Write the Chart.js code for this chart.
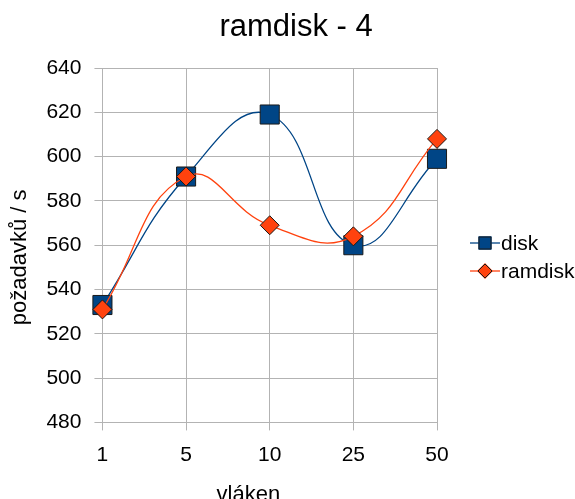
<!DOCTYPE html>
<html>
<head>
<meta charset="utf-8">
<script src="https://cdn.jsdelivr.net/npm/chart.js@4/dist/chart.umd.min.js"></script>
<style>
  html, body { margin: 0; padding: 0; background: #fff; overflow: hidden; }
  #wrap { position: relative; width: 575px; height: 514px; }
</style>
</head>
<body>
<div id="wrap"><canvas id="chart"></canvas></div>
<script>
// Data
var threads = ["1", "5", "10", "25", "50"];
var diskValues = [533, 591, 619, 560, 599];
var ramdiskValues = [531, 591, 569, 564, 608];
var yTicks = [480, 500, 520, 540, 560, 580, 600, 620, 640];

// Texts (the padding spaces nudge the centred text the way LibreOffice placed it)
var chartTitle = "  ramdisk - 4";
var xTitle = "vláken       ";
var yTitle = "požadavků / s    ";

// Colours (LibreOffice defaults)
var diskColor = "#004586";
var ramdiskColor = "#ff420e";
var gridColor = "#b3b3b3";
var fontName = "'Liberation Sans', Arial, sans-serif";

// Keep a strip free on the right for the legend
var legendSpace = {
    id: 'legendSpace',
    beforeInit: function(chart) {
        Chart.layouts.addBox(chart, {
            position: 'right',
            weight: 1000,
            fullSize: false,
            options: {},
            width: 0,
            height: 0,
            isHorizontal: function() { return false; },
            update: function(maxWidth, maxHeight) {
                this.width = 138;
                this.height = maxHeight;
            },
            draw: function() {}
        });
    }
};

// Legend with a line through the marker, drawn after the chart
var lineLegend = {
    id: 'lineLegend',
    afterDraw: function(chart) {
        var ctx = chart.ctx;
        var x0 = 470, y0 = 243, step = 28;
        ctx.save();
        chart.data.datasets.forEach(function(ds, i) {
            var y = y0 + i * step;
            ctx.strokeStyle = ds.borderColor;
            ctx.lineWidth = 1.3;
            ctx.beginPath();
            ctx.moveTo(x0, y);
            ctx.lineTo(x0 + 30, y);
            ctx.stroke();
            Chart.helpers.drawPoint(ctx, {
                pointStyle: ds.pointStyle,
                radius: ds.pointStyle === 'rect' ? 8.5 : 7,
                borderWidth: 1,
                rotation: 0
            }, x0 + 15, y);
            ctx.fillStyle = ds.pointBackgroundColor;
            ctx.strokeStyle = ds.pointBorderColor;
            ctx.lineWidth = 1;
            ctx.fill();
            ctx.stroke();
            ctx.fillStyle = "#000";
            ctx.font = "21px " + fontName;
            ctx.textBaseline = "middle";
            ctx.textAlign = "left";
            ctx.fillText(ds.label, x0 + 31, y + 1);
        });
        ctx.restore();
    }
};

new Chart(document.getElementById('chart'), {
    type: 'line',
    data: {
        labels: threads,
        datasets: [{
            label: "disk",
            data: diskValues,
            order: 1,
            borderColor: diskColor,
            borderWidth: 1.3,
            tension: 0.45,
            pointStyle: 'rect',
            pointRadius: 13.5,
            pointBackgroundColor: diskColor,
            pointBorderColor: "#1a1a1a",
            pointBorderWidth: 1,
            fill: false
        }, {
            label: "ramdisk",
            data: ramdiskValues,
            order: 0,
            borderColor: ramdiskColor,
            borderWidth: 1.3,
            tension: 0.45,
            pointStyle: 'rectRot',
            pointRadius: 9.5,
            pointBackgroundColor: ramdiskColor,
            pointBorderColor: "#1a1a1a",
            pointBorderWidth: 1,
            fill: false
        }]
    },
    options: {
        responsive: true,
        maintainAspectRatio: false,
        animation: false,
        layout: { padding: 0 },
        plugins: {
            legend: { display: false },
            tooltip: { enabled: false },
            title: {
                display: true,
                text: chartTitle,
                color: "#000",
                font: { family: fontName, size: 31, weight: 'normal' },
                padding: { top: 9, bottom: 21.8 }
            }
        },
        scales: {
            x: {
                offset: false,
                grid: { color: gridColor, lineWidth: 1, tickLength: 8 },
                border: { color: gridColor },
                ticks: { color: "#000", padding: 12, font: { family: fontName, size: 21 } },
                title: {
                    display: true,
                    text: xTitle,
                    color: "#000",
                    font: { family: fontName, size: 22 },
                    padding: { top: 2, bottom: 6 }
                }
            },
            y: {
                min: yTicks[0],
                max: yTicks[yTicks.length - 1],
                afterBuildTicks: function(axis) {
                    axis.ticks = yTicks.map(function(v) { return { value: v }; });
                },
                grid: { color: gridColor, lineWidth: 1, tickLength: 8 },
                border: { color: gridColor },
                ticks: { color: "#000", padding: 13, font: { family: fontName, size: 21 } },
                title: {
                    display: true,
                    text: yTitle,
                    color: "#000",
                    font: { family: fontName, size: 22 },
                    padding: { top: 7, bottom: 0 }
                }
            }
        }
    },
    plugins: [legendSpace, lineLegend]
});
</script>
</body>
</html>
